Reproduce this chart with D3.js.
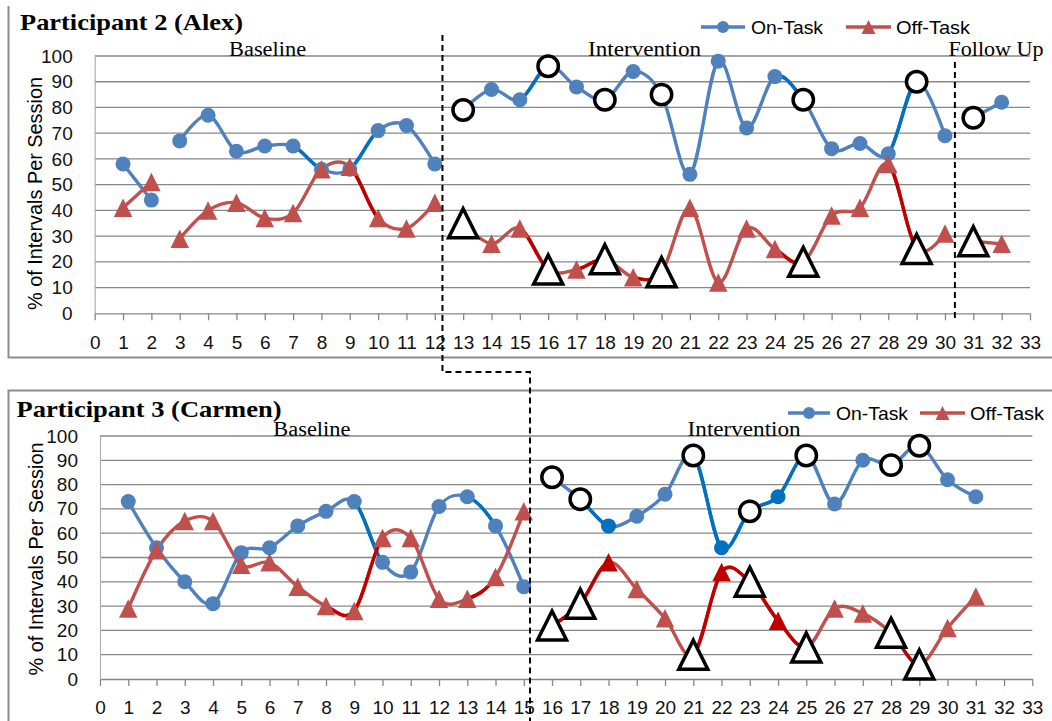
<!DOCTYPE html>
<html><head><meta charset="utf-8">
<script src="https://cdn.jsdelivr.net/npm/d3@7"></script>
<style>body{margin:0;background:#fff}svg{display:block}</style></head>
<body><svg id="c" width="1052" height="721"></svg>
<script>
// ---------- DATA ----------
const xTickLabels = [0,1,2,3,4,5,6,7,8,9,10,11,12,13,14,15,16,17,18,19,20,21,22,23,24,25,26,27,28,29,30,31,32,33];
const yTickLabels = [0,10,20,30,40,50,60,70,80,90,100];

const alexSessions = [1,2,3,4,5,6,7,8,9,10,11,12,13,14,15,16,17,18,19,20,21,22,23,24,25,26,27,28,29,30,31,32];
const alexOnTask  = [58,44,67,77,63,65,65,56,56,71,73,58, 79,87,83,96,88,83,94,85,54,98,72,92,83,64,66,62,90,69, 76,82];
const alexOffTask = [41,51,29,40,43,37,39,56,57,37,33,43, 35,27,33,17,17,21,14,16,41,12,33,25,20,38,41,58,25,31, 28,27];
const alexBreaksAfter = [2,12,30];
const alexOpenSessions = [13,16,18,20,25,29,31];
const alexOnDarkSeg = [8,10,16,25,29];
const alexOffDarkSeg = [10,16,18,20,25,29];
const alexOnDarkPts = [];
const alexOffDarkPts = [];
const alexPhases = [{label:"Baseline", at:6.1},{label:"Intervention", at:19.4},{label:"Follow Up", at:31.8}];
const alexPhaseChange = 12.27, alexFollowUpChange = 30.35;

const carmenSessions = [1,2,3,4,5,6,7,8,9,10,11,12,13,14,15,16,17,18,19,20,21,22,23,24,25,26,27,28,29,30,31];
const carmenOnTask  = [73,54,40,31,52,54,63,69,73,48,44,71,75,63,38, 83,74,63,67,76,92,54,69,75,92,72,90,88,96,82,75];
const carmenOffTask = [29,53,65,65,47,48,38,30,28,58,58,33,33,42,69, 22,31,48,37,25,10,44,40,24,13,29,27,19,6,21,34];
const carmenBreaksAfter = [15];
const carmenOpenSessions = [16,17,21,23,25,28,29];
const carmenOnDarkSeg = [10,14,18,22,23,24,25];
const carmenOffDarkSeg = [9,10,14,17,18,22,23,24,25,29];
const carmenOnDarkPts = [18,22,24];
const carmenOffDarkPts = [18,22,24];
const carmenPhases = [{label:"Baseline", at:7.5},{label:"Intervention", at:22.8}];
const carmenPhaseChange = 15.22;

const seriesNames = ["On-Task","Off-Task"];
const colors = {on:"#4f81bd", onDark:"#0070c0", off:"#c0504d", offDark:"#c00000", grid:"#878787"};

// ---------- LAYOUT ----------
const svg = d3.select("#c");
const panels = [
  {title:"Participant 2 (Alex)", titleX:20, titleY:30, titleLen:223,
   sessions:alexSessions, on:alexOnTask, off:alexOffTask, breaks:alexBreaksAfter, open:alexOpenSessions,
   onDarkSeg:alexOnDarkSeg, offDarkSeg:alexOffDarkSeg, onDarkPts:alexOnDarkPts, offDarkPts:alexOffDarkPts,
   phases:alexPhases, phaseY:56, xr:[94.7,1030], yr:[313.3,56], ytitle:[35,193.5],
   legend:{x:701, y:27, onLine:44, onText:50, offLine:145, offText:195}},
  {title:"Participant 3 (Carmen)", titleX:16.5, titleY:417, titleLen:265,
   sessions:carmenSessions, on:carmenOnTask, off:carmenOffTask, breaks:carmenBreaksAfter, open:carmenOpenSessions,
   onDarkSeg:carmenOnDarkSeg, offDarkSeg:carmenOffDarkSeg, onDarkPts:carmenOnDarkPts, offDarkPts:carmenOffDarkPts,
   phases:carmenPhases, phaseY:436, xr:[100,1032.3], yr:[679,436], ytitle:[36,559],
   legend:{x:788, y:413, onLine:42, onText:48, offLine:132, offText:182}}
];
const phaseLens = {"Baseline":77, "Intervention":113, "Follow Up":95};

// frames
svg.append("path").attr("d","M8.5,6V357.5H1052").attr("fill","none").attr("stroke","#8c8c8c").attr("stroke-width",2);
svg.append("path").attr("d","M1052,390.5H8.5V721").attr("fill","none").attr("stroke","#8c8c8c").attr("stroke-width",2);

function triPath(cx, cy, s){
  return `M${cx},${cy - s/2}L${cx + s/2},${cy + s/2}L${cx - s/2},${cy + s/2}Z`;
}

let clipId = 0;
panels.forEach((p, pi) => {
  const x = d3.scaleLinear().domain([0,33]).range(p.xr);
  const y = d3.scaleLinear().domain([0,100]).range(p.yr);
  const g = svg.append("g");

  // gridlines
  g.append("g").selectAll("line").data(yTickLabels.filter(v => v > 0)).join("line")
    .attr("x1", x(0)).attr("x2", x(33)).attr("y1", d => y(d)).attr("y2", d => y(d))
    .attr("stroke", colors.grid).attr("stroke-width", 1.3);

  // x axis
  const xa = g.append("g").attr("transform", `translate(0,${y(0)})`)
    .call(d3.axisBottom(x).tickValues(xTickLabels).tickSize(7).tickSizeOuter(0).tickPadding(15).tickFormat(d3.format("d")));
  xa.select(".domain").attr("stroke", colors.grid).attr("stroke-width", 1.3);
  xa.selectAll(".tick line").attr("stroke", colors.grid).attr("stroke-width", 1.3);
  xa.selectAll("text").attr("font-family","Liberation Sans, Arial, sans-serif").attr("font-size",19).attr("fill","#111");

  // y axis
  const ya = g.append("g").attr("transform", `translate(${x(0)},0)`)
    .call(d3.axisLeft(y).tickValues(yTickLabels).tickSize(0).tickPadding(22));
  ya.select(".domain").attr("stroke", "#b0b0b0").attr("stroke-width", 1.2);
  ya.selectAll("text").attr("font-family","Liberation Sans, Arial, sans-serif").attr("font-size",19).attr("fill","#111");

  // y title
  g.append("text").attr("transform", `translate(${p.ytitle[0]},${p.ytitle[1]}) rotate(-90)`)
    .attr("text-anchor","middle").attr("dy","0.35em")
    .attr("font-family","Liberation Sans, Arial, sans-serif").attr("font-size",19.5)
    .attr("textLength",233).attr("lengthAdjust","spacingAndGlyphs")
    .text("% of Intervals Per Session");

  // title
  g.append("text").attr("x", p.titleX).attr("y", p.titleY)
    .attr("font-family","Liberation Serif, Times New Roman, serif").attr("font-weight","bold").attr("font-size",23)
    .attr("textLength",p.titleLen).attr("lengthAdjust","spacingAndGlyphs")
    .text(p.title);

  // phase labels
  p.phases.forEach(ph => {
    const L = phaseLens[ph.label];
    g.append("text").attr("x", x(ph.at) - L/2).attr("y", p.phaseY - 0.5)
      .attr("font-family","Liberation Serif, Times New Roman, serif").attr("font-size",20)
      .attr("textLength",L).attr("lengthAdjust","spacingAndGlyphs")
      .text(ph.label);
  });

  // pieces split at phase breaks
  function pieces(vals){
    const out = []; let cur = [];
    p.sessions.forEach((s, i) => {
      cur.push({s, v: vals[i]});
      if (p.breaks.includes(s)) { out.push(cur); cur = []; }
    });
    if (cur.length) out.push(cur);
    return out;
  }
  const line = d3.line().x(d => x(d.s)).y(d => y(d.v)).curve(d3.curveCardinal.tension(0));

  function drawSeries(vals, col, darkCol, darkSeg){
    const ps = pieces(vals);
    ps.forEach(pc => {
      g.append("path").attr("d", line(pc)).attr("fill","none").attr("stroke", col).attr("stroke-width", 3.4)
        .attr("stroke-linejoin","round");
      darkSeg.forEach(s => {
        if (pc.some(d => d.s === s) && pc.some(d => d.s === s - 1)) {
          const id = "clip" + (clipId++);
          svg.append("clipPath").attr("id", id).append("rect")
            .attr("x", x(s - 1)).attr("y", y(100) - 20).attr("width", x(s) - x(s - 1)).attr("height", y(0) - y(100) + 40);
          g.append("path").attr("d", line(pc)).attr("fill","none").attr("stroke", darkCol).attr("stroke-width", 3.4)
            .attr("clip-path", `url(#${id})`);
        }
      });
    });
  }
  drawSeries(p.on, colors.on, colors.onDark, p.onDarkSeg);
  drawSeries(p.off, colors.off, colors.offDark, p.offDarkSeg);

  // markers
  const onPts = p.sessions.map((s, i) => ({s, v: p.on[i]}));
  const offPts = p.sessions.map((s, i) => ({s, v: p.off[i]}));
  g.append("g").selectAll("circle").data(onPts.filter(d => !p.open.includes(d.s))).join("circle")
    .attr("cx", d => x(d.s)).attr("cy", d => y(d.v)).attr("r", 7.5)
    .attr("fill", d => p.onDarkPts.includes(d.s) ? colors.onDark : colors.on);
  g.append("g").selectAll("path").data(offPts.filter(d => !p.open.includes(d.s))).join("path")
    .attr("d", d => triPath(x(d.s), y(d.v), 18.5))
    .attr("fill", d => p.offDarkPts.includes(d.s) ? colors.offDark : colors.off);
  // open (highlighted) markers
  g.append("g").selectAll("circle").data(onPts.filter(d => p.open.includes(d.s))).join("circle")
    .attr("cx", d => x(d.s)).attr("cy", d => y(d.v)).attr("r", 10.2)
    .attr("fill", "#fff").attr("stroke", "#000").attr("stroke-width", 3.5);
  g.append("g").selectAll("path").data(offPts.filter(d => p.open.includes(d.s))).join("path")
    .attr("d", d => triPath(x(d.s), y(d.v), 29))
    .attr("fill", "#fff").attr("stroke", "#000").attr("stroke-width", 3.5).attr("stroke-linejoin","miter");

  // legend
  const L = p.legend;
  const lg = g.append("g").attr("transform", `translate(${L.x},${L.y})`);
  lg.append("line").attr("x1",0).attr("x2",L.onLine).attr("stroke",colors.on).attr("stroke-width",3.4);
  lg.append("circle").attr("cx",L.onLine/2).attr("r",6).attr("fill",colors.on);
  lg.append("text").attr("x",L.onText).attr("dy","0.35em").attr("font-family","Liberation Sans, Arial, sans-serif")
    .attr("font-size",19).attr("textLength",72).attr("lengthAdjust","spacingAndGlyphs").text(seriesNames[0]);
  lg.append("line").attr("x1",L.offLine).attr("x2",L.offLine + 45).attr("stroke",colors.off).attr("stroke-width",3.4);
  lg.append("path").attr("d", triPath(L.offLine + 22.5, 0, 14)).attr("fill",colors.off);
  lg.append("text").attr("x",L.offText).attr("dy","0.35em").attr("font-family","Liberation Sans, Arial, sans-serif")
    .attr("font-size",19).attr("textLength",74).attr("lengthAdjust","spacingAndGlyphs").text(seriesNames[1]);

  p.x = x; p.y = y;
});

// phase change lines (dashed)
const xt = panels[0].x, yt = panels[0].y, xb = panels[1].x;
svg.append("path")
  .attr("d", `M${xt(alexPhaseChange)},35V372H${xb(carmenPhaseChange)}V721`)
  .attr("fill","none").attr("stroke","#000").attr("stroke-width",2).attr("stroke-dasharray","6,4");
svg.append("path")
  .attr("d", `M${xt(alexFollowUpChange)},62V${yt(0) + 5}`)
  .attr("fill","none").attr("stroke","#000").attr("stroke-width",2).attr("stroke-dasharray","6,4");
</script></body></html>
